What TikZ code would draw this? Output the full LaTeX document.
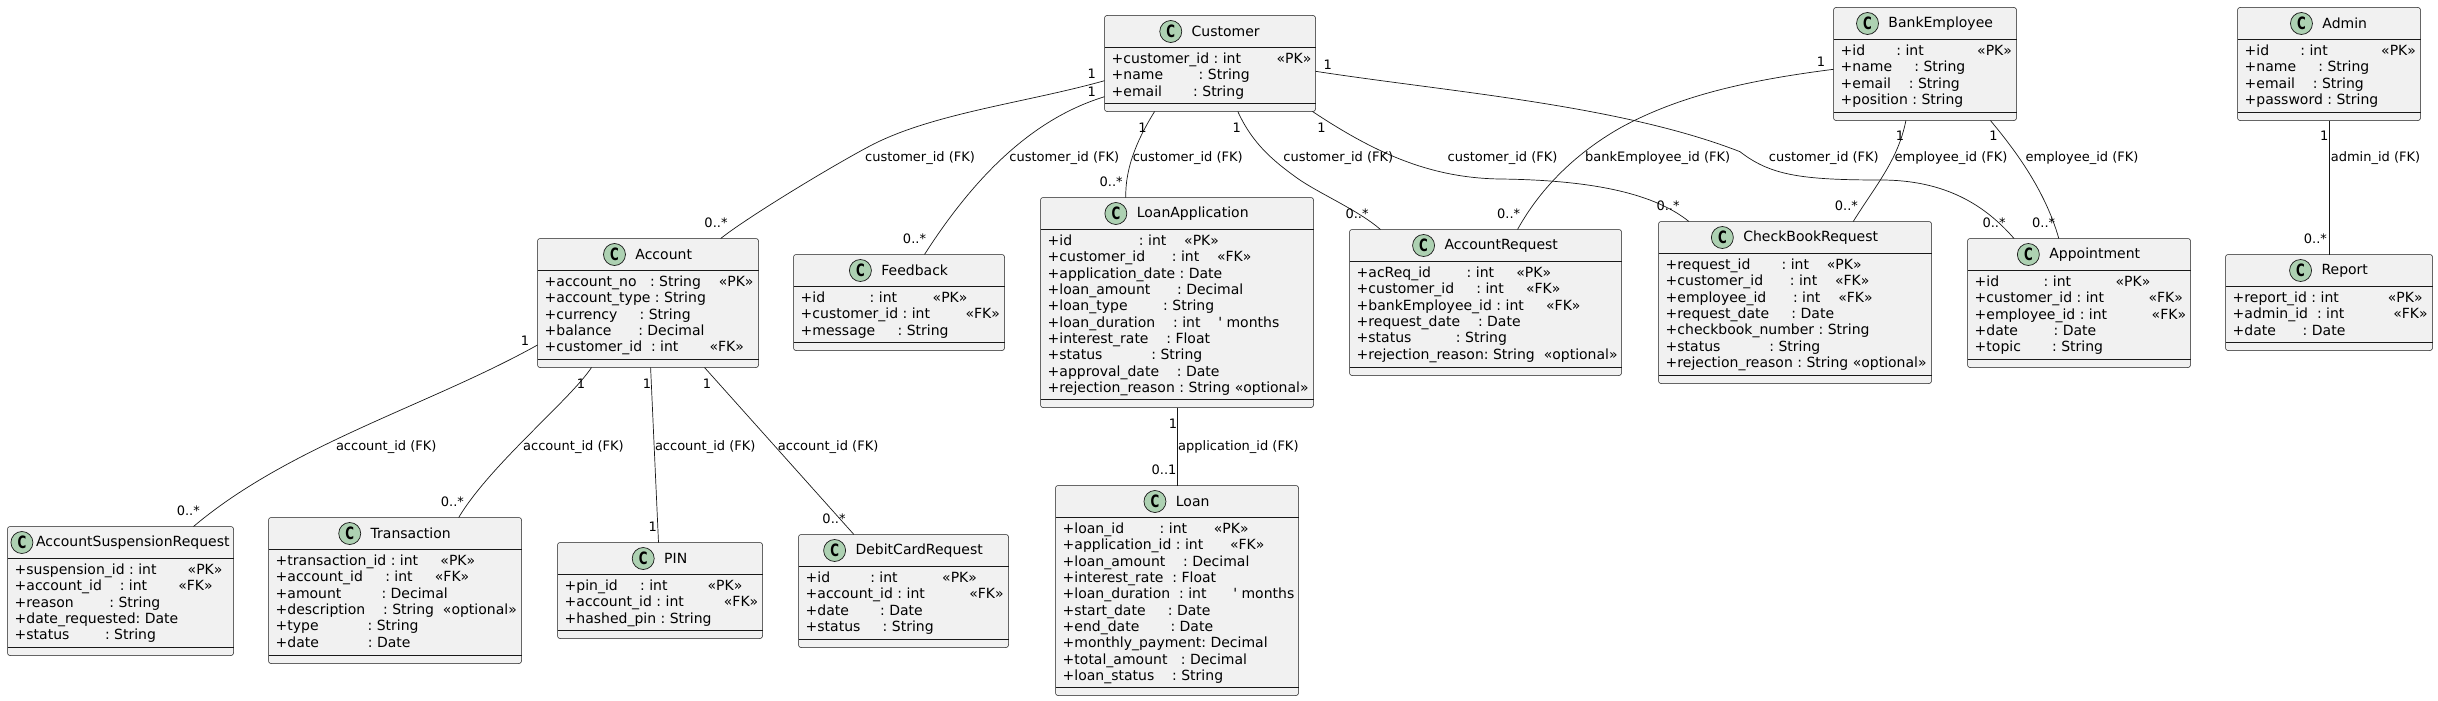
\documentclass[tikz,border=0pt]{standalone}
\usepackage{fontspec}
\usepackage{graphicx}
\setmainfont{DejaVu Sans}
\usetikzlibrary{positioning}
\definecolor{boxfill}{HTML}{F1F1F1}
\definecolor{boxline}{HTML}{181818}
\definecolor{spotfill}{HTML}{ADD1B2}
\tikzset{
	classbody/.style={draw=boxline,fill=boxfill,line width=.5pt,rounded corners=2.5pt,inner sep=0pt,outer sep=0pt,anchor=north west},
	classtitle/.style={font=\fontsize{14}{16}\selectfont,inner sep=0pt,text=black},
	classspot/.style={circle,draw=boxline,fill=spotfill,line width=.7pt,minimum size=22pt,inner sep=0pt,font=\bfseries\fontsize{17}{18}\selectfont},
	memberrow/.style={font=\fontsize{14}{16}\selectfont,inner sep=0pt,anchor=base west,text=black},
	fklabel/.style={font=\fontsize{13}{15}\selectfont,inner sep=0pt,anchor=west,text=black},
	cardlabel/.style={font=\fontsize{13}{15}\selectfont,inner sep=0pt,text=black},
	assoc/.style={draw=boxline,line width=.7pt},
}
\def\titlegap{9.4}
% #1 name, #2 left, #3 top, #4 width, #5 height, #6 member lines
\newcommand{\classbox}[6]{
	\node[classbody,minimum width=#4pt,minimum height=#5pt] (#1) at (#2,#3) {};
	\pgfmathsetmacro{\titleshift}{11+\titlegap/2}
	\path ([yshift=-16pt]#1.north) ++(\titleshift pt,0) node[classtitle] (#1Title) {#1};
	\node[classspot,left=\titlegap pt of #1Title.west] (#1Spot) {\scalebox{.7}[1]{C}};
	\draw[draw=boxline,line width=.5pt] ([yshift=-32pt]#1.north west) -- ([yshift=-32pt]#1.north east)
	([yshift=8pt]#1.south west) -- ([yshift=8pt]#1.south east);
	\foreach \m [count=\i] in {#6} {
		\pgfmathsetmacro{\rowy}{32+16.33*\i-0.4}
		\node[memberrow] (#1Row\i) at ([shift={(7pt,-\rowy pt)}]#1.north west) {\m};
	}
}
\begin{document}
\begin{tikzpicture}[x=1pt,y=-1pt]
	\useasboundingbox (0,0) rectangle (2438,701);
	\classbox{Customer}{1104.5}{15.5}{211}{96}{+customer\_id~:~int~~~~~~~~«PK»,+name~~~~~~~~:~String,+email~~~~~~~:~String}
	\classbox{BankEmployee}{1833.5}{7.5}{183}{113}{+id~~~~~~~:~int~~~~~~~~~~~~«PK»,+name~~~~~:~String,+email~~~~:~String,+position~:~String}
	\classbox{Admin}{2237.5}{7.5}{183}{113}{+id~~~~~~~:~int~~~~~~~~~~~~«PK»,+name~~~~~:~String,+email~~~~:~String,+password~:~String}
	\classbox{Account}{537.5}{238.5}{221}{129}{+account\_no~~~:~String~~~~«PK»,+account\_type~:~String,+currency~~~~~:~String,+balance~~~~~~:~Decimal,+customer\_id~~:~int~~~~~~~«FK»}
	\classbox{Feedback}{793.5}{254.5}{211}{96}{+id~~~~~~~~~~:~int~~~~~~~~«PK»,+customer\_id~:~int~~~~~~~~«FK»,+message~~~~~:~String}
	\classbox{LoanApplication}{1040.5}{197.5}{273}{210}{+id~~~~~~~~~~~~~~~:~int~~~~«PK»,+customer\_id~~~~~~:~int~~~~«FK»,+application\_date~:~Date,+loan\_amount~~~~~~:~Decimal,+loan\_type~~~~~~~~:~String,+loan\_duration~~~~:~int~~~~\textquotesingle~months,+interest\_rate~~~~:~Float,+status~~~~~~~~~~~:~String,+approval\_date~~~~:~Date,+rejection\_reason~:~String~«optional»}
	\classbox{AccountRequest}{1349.5}{229.5}{272}{146}{+acReq\_id~~~~~~~~:~int~~~~~«PK»,+customer\_id~~~~~:~int~~~~~«FK»,+bankEmployee\_id~:~int~~~~~«FK»,+request\_date~~~~:~Date,+status~~~~~~~~~~:~String,+rejection\_reason:~String~~«optional»}
	\classbox{CheckBookRequest}{1658.5}{221.5}{273}{162}{+request\_id~~~~~~~:~int~~~~«PK»,+customer\_id~~~~~~:~int~~~~«FK»,+employee\_id~~~~~~:~int~~~~«FK»,+request\_date~~~~~:~Date,+checkbook\_number~:~String,+status~~~~~~~~~~~:~String,+rejection\_reason~:~String~«optional»}
	\classbox{Appointment}{1967.5}{238.5}{223}{129}{+id~~~~~~~~~~:~int~~~~~~~~~~«PK»,+customer\_id~:~int~~~~~~~~~~«FK»,+employee\_id~:~int~~~~~~~~~~«FK»,+date~~~~~~~~:~Date,+topic~~~~~~~:~String}
	\classbox{Report}{2225.5}{254.5}{207}{96}{+report\_id~:~int~~~~~~~~~~~«PK»,+admin\_id~~:~int~~~~~~~~~~~«FK»,+date~~~~~~:~Date}
	\def\titlegap{2.6}
	\classbox{AccountSuspensionRequest}{7.5}{526.5}{226}{129}{+suspension\_id~:~int~~~~~~~«PK»,+account\_id~~~~:~int~~~~~~~«FK»,+reason~~~~~~~~:~String,+date\_requested:~Date,+status~~~~~~~~:~String}
	\def\titlegap{9.4}
	\classbox{Transaction}{268.5}{517.5}{253}{146}{+transaction\_id~:~int~~~~~«PK»,+account\_id~~~~~:~int~~~~~«FK»,+amount~~~~~~~~~:~Decimal,+description~~~~:~String~~«optional»,+type~~~~~~~~~~~:~String,+date~~~~~~~~~~~:~Date}
	\classbox{PIN}{557.5}{542.5}{205}{96}{+pin\_id~~~~~:~int~~~~~~~~~«PK»,+account\_id~:~int~~~~~~~~~«FK»,+hashed\_pin~:~String}
	\classbox{DebitCardRequest}{798.5}{534.5}{210}{113}{+id~~~~~~~~~:~int~~~~~~~~~~«PK»,+account\_id~:~int~~~~~~~~~~«FK»,+date~~~~~~~:~Date,+status~~~~~:~String}
	\classbox{Loan}{1055.5}{485.5}{243}{210}{+loan\_id~~~~~~~~:~int~~~~~~«PK»,+application\_id~:~int~~~~~~«FK»,+loan\_amount~~~~:~Decimal,+interest\_rate~~:~Float,+loan\_duration~~:~int~~~~~~\textquotesingle~months,+start\_date~~~~~:~Date,+end\_date~~~~~~~:~Date,+monthly\_payment:~Decimal,+total\_amount~~~:~Decimal,+loan\_status~~~~:~String}
	% connectors from Customer
	\draw[assoc] ([yshift=-65.2pt]Customer.north west) .. controls (1025,103) and (930,113.5) .. (868,147) .. controls (825,170) and (745,219) .. ([xshift=183.2pt]Account.north west);
	\draw[assoc] ([yshift=-81.2pt]Customer.north west) .. controls (1045,115) and (985,160) .. ([xshift=131pt]Feedback.north west);
	\draw[assoc] ([xshift=50.1pt]Customer.south west) .. controls (1140,135) and (1125,165) .. ([xshift=85.3pt]LoanApplication.north west);
	\draw[assoc] ([xshift=133.3pt]Customer.south west) .. controls (1253,145) and (1275,162) .. (1297,178) .. controls (1318,193) and (1358,210) .. ([xshift=31pt]AccountRequest.north west);
	\draw[assoc] ([xshift=208pt]Customer.south west) .. controls (1375,153) and (1430,178) .. (1500,179) .. controls (1580,180) and (1650,190) .. ([xshift=30.4pt]CheckBookRequest.north west);
	\draw[assoc] ([yshift=-55.8pt]Customer.north east) .. controls (1450,92) and (1620,105) .. (1740,151.7) .. controls (1770,175) and (1800,180) .. (1880.9,180) .. controls (1945,180) and (1985,205) .. ([xshift=46.5pt]Appointment.north west);
	% connectors from BankEmployee and Admin
	\draw[assoc] ([yshift=-61.8pt]BankEmployee.north west) .. controls (1750,80) and (1680,95) .. (1620,128) .. controls (1585,148) and (1545,180) .. ([xshift=168pt]AccountRequest.north west);
	\draw[assoc] ([xshift=72.4pt]BankEmployee.south west) .. controls (1898,160) and (1876,185) .. ([xshift=194.7pt]CheckBookRequest.north west);
	\draw[assoc] ([xshift=156.9pt]BankEmployee.south west) .. controls (2015,150) and (2045,190) .. ([xshift=91.3pt]Appointment.north west);
	\draw[assoc] ([xshift=92pt]Admin.south west) -- ([xshift=104pt]Report.north west);
	% connectors from Account and LoanApplication
	\draw[assoc] ([yshift=-106.5pt]Account.north west) .. controls (430,405) and (290,445) .. ([xshift=186pt]AccountSuspensionRequest.north west);
	\draw[assoc] ([xshift=54pt]Account.south west) .. controls (570,400) and (490,465) .. ([xshift=190.2pt]Transaction.north west);
	\draw[assoc] ([xshift=113.1pt]Account.south west) -- ([xshift=101pt]PIN.north west);
	\draw[assoc] ([xshift=167pt]Account.south west) -- ([xshift=55.4pt]DebitCardRequest.north west);
	\draw[assoc] ([xshift=137pt]LoanApplication.south west) -- ([xshift=122pt]Loan.north west);
	% connector labels
	\foreach \x/\y/\t [count=\i] in {864.9/158.3/customer\_id (FK),1009.2/158.3/customer\_id (FK),1132.6/158.3/customer\_id (FK),1283.2/158.3/customer\_id (FK),1447.4/158.3/customer\_id (FK),1768.7/158.3/customer\_id (FK),1585/158.3/bankEmployee\_id (FK),1894.4/158.3/employee\_id (FK),2025.4/158.3/employee\_id (FK),2330.6/158.3/admin\_id (FK),335.8/446.7/account\_id (FK),523/446.7/account\_id (FK),654.8/446.7/account\_id (FK),777.7/446.7/account\_id (FK),1178/446.7/application\_id (FK)}
		\node[fklabel] (fk\i) at (\x,\y) {\t};
	% multiplicities
	\foreach \x/\y/\t [count=\i] in {1091.8/73.7/1,716/222.3/0..*,1091.8/91.7/1,914.5/238.3/0..*,1142.6/127.7/1,1111.2/181.7/0..*,1236.7/127.7/1,1357/213.3/0..*,1321.4/127.7/1,1668/205.7/0..*,1327.7/64.3/1,1994/222.3/0..*,1820.9/61.7/1,1508.6/213.3/0..*,1900/135.7/1,1846.4/205.7/0..*,1993.5/135.7/1,2043.6/222.3/0..*,2324.3/135.7/1,2315.4/238.3/0..*,525/340.7/1,188.3/510.3/0..*,581/383.3/1,452.4/501.7/0..*,647/383.3/1,652.7/526.3/1,707/383.3/1,834/518.7/0..*,1172.9/423.3/1,1164/469.3/0..1}
		\node[cardlabel] (card\i) at (\x,\y) {\t};
\end{tikzpicture}
\end{document}
